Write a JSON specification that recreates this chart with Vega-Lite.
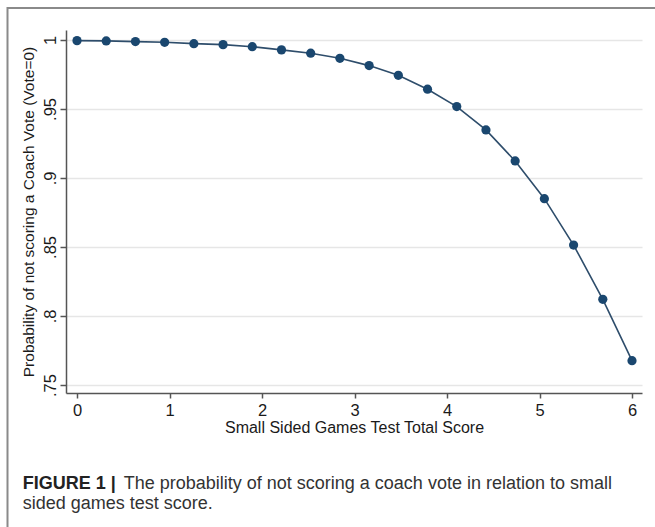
{
  "$schema": "https://vega.github.io/schema/vega-lite/v6.json",
  "width": 576,
  "height": 363,
  "autosize": {"type": "none"},
  "padding": {"left": 66, "top": 30, "right": 13, "bottom": 134},
  "background": "white",
  "config": {
    "view": {"stroke": null},
    "font": "Liberation Sans",
    "axis": {
      "domainColor": "#555555",
      "domainWidth": 1.5,
      "tickColor": "#555555",
      "tickWidth": 1.5,
      "labelFontSize": 16.5,
      "labelColor": "#1a1a1a",
      "titleFontSize": 15.5,
      "titleFontWeight": "normal",
      "titleColor": "#1a1a1a"
    },
    "axisX": {
      "grid": false,
      "tickSize": 5,
      "labelPadding": 4,
      "titlePadding": 1,
      "titleFontSize": 16,
      "format": "d"
    },
    "axisY": {
      "grid": true,
      "gridColor": "#e6e6e6",
      "gridWidth": 1.5,
      "tickSize": 6,
      "labelAngle": -90,
      "labelAlign": "center",
      "labelBaseline": "bottom",
      "labelPadding": 2,
      "titlePadding": 6
    }
  },
  "datasets": {
    "pred": [
      {"score": 0.0, "prob": 0.9995},
      {"score": 0.3158, "prob": 0.9993},
      {"score": 0.6316, "prob": 0.9988},
      {"score": 0.9474, "prob": 0.9983},
      {"score": 1.2632, "prob": 0.9973},
      {"score": 1.5789, "prob": 0.9966},
      {"score": 1.8947, "prob": 0.9951},
      {"score": 2.2105, "prob": 0.9928},
      {"score": 2.5263, "prob": 0.9904},
      {"score": 2.8421, "prob": 0.9867},
      {"score": 3.1579, "prob": 0.9814},
      {"score": 3.4737, "prob": 0.9744},
      {"score": 3.7895, "prob": 0.9643},
      {"score": 4.1053, "prob": 0.9517},
      {"score": 4.4211, "prob": 0.9348},
      {"score": 4.7368, "prob": 0.9123},
      {"score": 5.0526, "prob": 0.885},
      {"score": 5.3684, "prob": 0.8514},
      {"score": 5.6842, "prob": 0.8121},
      {"score": 6.0, "prob": 0.7676}
    ],
    "caption": [
      {"part": "bold", "line1": "FIGURE 1 |"},
      {"part": "normal", "line1": "The probability of not scoring a coach vote in relation to small", "line2": "sided games test score."}
    ]
  },
  "layer": [
    {
      "data": {"name": "pred"},
      "encoding": {
        "x": {
          "field": "score",
          "type": "quantitative",
          "scale": {"domain": [-0.119, 6.108], "nice": false, "zero": false},
          "axis": {
            "title": "Small Sided Games Test Total Score",
            "values": [0, 1, 2, 3, 4, 5, 6],
            "format": "d"
          }
        },
        "y": {
          "field": "prob",
          "type": "quantitative",
          "scale": {"domain": [0.7442, 1.0072], "nice": false, "zero": false},
          "axis": {
            "title": "Probability of not scoring a Coach Vote (Vote=0)",
            "values": [0.75, 0.8, 0.85, 0.9, 0.95, 1],
            "labelExpr": "datum.value == 1 ? '1' : replace(format(datum.value, '.2~f'), '0.', '.')"
          }
        }
      },
      "layer": [
        {"mark": {"type": "line", "color": "#2e4d6b", "strokeWidth": 1.6}},
        {"mark": {"type": "point", "filled": true, "color": "#1a476f", "size": 85, "opacity": 1}}
      ]
    },
    {
      "data": {"values": [{"frame": "figure"}]},
      "mark": {"type": "rect", "fillOpacity": 0, "stroke": "#8a8a8a", "strokeWidth": 2, "clip": false},
      "encoding": {
        "x": {"datum": -0.7514, "type": "quantitative"},
        "x2": {"datum": 6.8},
        "y": {"datum": 1.02319, "type": "quantitative"},
        "y2": {"datum": 0.5942}
      }
    },
    {
      "data": {"name": "caption"},
      "transform": [{"filter": "datum.part == 'bold'"}],
      "mark": {"type": "text", "align": "left", "baseline": "alphabetic", "fontSize": 18, "fontWeight": "bold", "color": "#222222", "clip": false},
      "encoding": {
        "x": {"datum": -0.587, "type": "quantitative"},
        "y": {"datum": 0.67442, "type": "quantitative"},
        "text": {"field": "line1"}
      }
    },
    {
      "data": {"name": "caption"},
      "transform": [{"filter": "datum.part == 'normal'"}],
      "mark": {"type": "text", "align": "left", "baseline": "alphabetic", "fontSize": 18, "color": "#333333", "dx": 101, "clip": false},
      "encoding": {
        "x": {"datum": -0.587, "type": "quantitative"},
        "y": {"datum": 0.67442, "type": "quantitative"},
        "text": {"field": "line1"}
      }
    },
    {
      "data": {"name": "caption"},
      "transform": [{"filter": "datum.part == 'normal'"}],
      "mark": {"type": "text", "align": "left", "baseline": "alphabetic", "fontSize": 18, "color": "#333333", "clip": false},
      "encoding": {
        "x": {"datum": -0.587, "type": "quantitative"},
        "y": {"datum": 0.65993, "type": "quantitative"},
        "text": {"field": "line2"}
      }
    }
  ]
}
